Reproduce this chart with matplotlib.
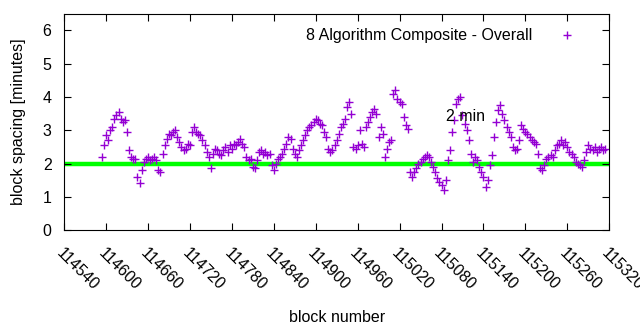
from matplotlib import pyplot as plt
import numpy as np

plt.rcParams['font.family'] = ['Liberation Sans', 'DejaVu Sans']

# block numbers (every 3rd block) and block spacing in minutes
first_block = 114594
block_step = 3
spacing = [
    2.2, 2.55, 2.85, 2.7, 3.0, 3.1, 3.35, 3.45, 3.55, 3.35,
    3.25, 3.3, 2.95, 2.4, 2.2, 2.15, 2.15, 1.6, 1.4, 1.8,
    2.05, 2.15, 2.2, 2.1, 2.15, 2.2, 2.1, 1.8, 1.75, 2.3,
    2.55, 2.75, 2.9, 2.85, 2.95, 3.0, 2.8, 2.65, 2.5, 2.4,
    2.45, 2.6, 2.55, 2.95, 3.1, 2.95, 2.9, 2.85, 2.7, 2.55,
    2.35, 2.2, 1.85, 2.3, 2.45, 2.4, 2.3, 2.25, 2.4, 2.5,
    2.35, 2.55, 2.45, 2.6, 2.55, 2.65, 2.75, 2.6, 2.5, 2.2,
    2.1, 2.15, 1.9, 1.85, 2.1, 2.35, 2.4, 2.3, 2.35, 2.25,
    2.3, 1.95, 1.8, 2.0, 2.15, 2.2, 2.3, 2.45, 2.6, 2.8,
    2.75, 2.45, 2.3, 2.2, 2.4, 2.55, 2.7, 2.85, 3.0, 3.1,
    3.15, 3.25, 3.35, 3.3, 3.2, 3.15, 2.95, 2.8, 2.45, 2.35,
    2.4, 2.55, 2.7, 2.9, 3.1, 3.2, 3.35, 3.7, 3.85, 3.5,
    2.5, 2.45, 2.55, 3.0, 2.6, 2.5, 3.1, 3.25, 3.4, 3.55,
    3.65, 3.5, 2.8, 3.1, 2.9, 2.2, 2.45, 2.65, 2.7, 4.1,
    4.2, 3.95, 3.85, 3.8, 3.4, 3.15, 3.05, 1.75, 1.6, 1.75,
    1.85, 2.0, 2.05, 2.15, 2.2, 2.25, 2.2, 2.05, 1.9, 1.75,
    1.55, 1.45, 1.35, 1.2, 1.5, 2.1, 2.4, 2.95, 3.3, 3.8,
    3.95, 4.0, 3.45, 3.2, 3.0, 2.7, 2.3, 2.05, 2.2, 2.1,
    1.9, 1.75, 1.6, 1.3, 1.5, 1.95, 2.25, 2.8, 3.25, 3.6,
    3.75, 3.5, 3.3, 3.1, 2.95, 2.8, 2.5, 2.4, 2.45, 2.7,
    3.15, 3.05, 2.95, 2.9, 2.8, 2.7, 2.65, 2.6, 2.3, 1.85,
    1.8, 1.95, 2.15, 2.2, 2.25, 2.2, 2.4, 2.55, 2.6, 2.7,
    2.55, 2.65, 2.5, 2.35, 2.3, 2.2, 2.05, 2.0, 1.95, 1.9,
    2.1, 2.35, 2.55, 2.45, 2.4, 2.5, 2.35, 2.45, 2.5, 2.4,
    2.45,
]
blocks = first_block + block_step * np.arange(len(spacing))

target = 2
x_ticks = list(range(114540, 115321, 60))
y_ticks = [0, 1, 2, 3, 4, 5, 6]

fig = plt.figure(figsize=(6.4, 3.3), dpi=100)
ax = fig.add_axes([0.1, 0.303, 0.852, 0.655])

ax.plot([x_ticks[0], x_ticks[-1]], [target, target], color='#00ff00', linewidth=3.2, zorder=1)
ax.plot(blocks, spacing, linestyle='none', marker='+', markersize=6, markeredgewidth=1,
        color='#9400d3', label='8 Algorithm Composite - Overall', zorder=2)

ax.set_xlim(x_ticks[0], x_ticks[-1])
ax.set_ylim(0, 6.5)
ax.set_xticks(x_ticks)
ax.set_yticks(y_ticks)
ax.set_xticklabels([str(t) for t in x_ticks], rotation=-45, ha='left', va='top',
                   rotation_mode='anchor')
ax.tick_params(direction='in', top=True, right=True, length=5, labelsize=11.5)
ax.tick_params(axis='x', pad=11)
ax.tick_params(axis='y', pad=9)

ax.text(115087, 3.42, '2 min', fontsize=11.5, ha='left', va='center')

ax.set_xlabel('block number', fontsize=11.5, labelpad=12)
ax.set_ylabel('block spacing [minutes]', fontsize=11.5, labelpad=12)

ax.legend(loc='upper right', bbox_to_anchor=(0.978, 1.0), frameon=False, markerfirst=False,
          fontsize=11.5, handlelength=2.0, handletextpad=1.2)

plt.savefig('out.png')
